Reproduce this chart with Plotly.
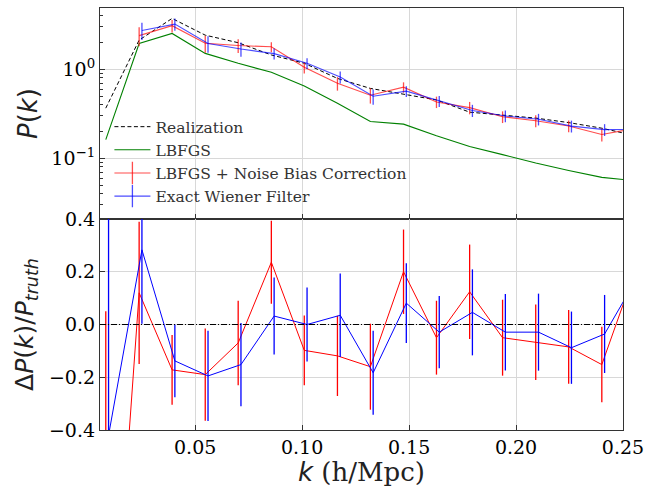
import plotly.graph_objects as go
from plotly.subplots import make_subplots

# ---- data ----
k = [0.0082, 0.0238, 0.0392, 0.0547, 0.0701, 0.0856, 0.1010, 0.1165, 0.1319,
     0.1474, 0.1628, 0.1783, 0.1937, 0.2092, 0.2246, 0.2401, 0.2555]
k_blue = [0.0095, 0.0251, 0.0405, 0.0560, 0.0714, 0.0869, 0.1023, 0.1178, 0.1332,
          0.1487, 0.1641, 0.1796, 0.1950, 0.2105, 0.2259, 0.2414, 0.2568]

p_real = [0.366, 2.13, 3.73, 2.42, 1.99, 1.45, 1.17, 0.79, 0.61, 0.525, 0.453,
          0.33, 0.308, 0.283, 0.252, 0.218, 0.18]
p_lbfgs = [0.162, 1.95, 2.53, 1.51, 1.17, 0.925, 0.65, 0.416, 0.259, 0.242,
           0.179, 0.136, 0.11, 0.0886, 0.073, 0.061, 0.056]
p_corr = [None, 2.39, 3.09, 1.96, 1.85, 1.79, 1.055, 0.696, 0.512, 0.63, 0.43,
          0.371, 0.293, 0.264, 0.231, 0.185, 0.216]
p_corr_err = [None, 0.575, 0.49, 0.42, 0.32, 0.23, 0.155, 0.12, 0.10, 0.084,
              0.063, 0.059, 0.044, 0.040, 0.035, 0.031, 0.027]
p_wf = [None, 2.73, 3.22, 1.95, 1.69, 1.50, 1.17, 0.818, 0.498, 0.568, 0.44,
        0.345, 0.299, 0.275, 0.23, 0.21, 0.212]
p_wf_err = [None, 0.60, 0.51, 0.41, 0.31, 0.21, 0.164, 0.125, 0.097, 0.079,
            0.062, 0.054, 0.045, 0.041, 0.035, 0.032, 0.027]

d_corr = [-1.65, 0.12, -0.172, -0.19, -0.07, 0.236, -0.098, -0.119, -0.16, 0.2,
          -0.05, 0.124, -0.05, -0.067, -0.085, -0.152, 0.2]
d_corr_err = [1.70, 0.27, 0.132, 0.175, 0.16, 0.157, 0.132, 0.152, 0.163, 0.16,
              0.14, 0.179, 0.144, 0.143, 0.14, 0.143, 0.15]
d_wf = [-0.42, 0.283, -0.138, -0.195, -0.152, 0.032, 0.0, 0.035, -0.183, 0.081,
        -0.029, 0.046, -0.029, -0.029, -0.088, -0.036, 0.18]
d_wf_err = [0.9, 0.28, 0.138, 0.171, 0.158, 0.146, 0.14, 0.158, 0.159, 0.151,
            0.137, 0.163, 0.145, 0.146, 0.137, 0.148, 0.15]

legend_names = ["Realization", "LBFGS", "LBFGS + Noise Bias Correction", "Exact Wiener Filter"]

RED_T = "rgba(255,0,0,0.7)"
BLUE_T = "rgba(0,0,255,0.7)"
SERIF = "DejaVu Serif, Liberation Serif, serif"
SANS = "DejaVu Sans, sans-serif"

fig = make_subplots(rows=2, cols=1, shared_xaxes=True, vertical_spacing=0)

# ---- top panel ----
fig.add_trace(go.Scatter(x=k, y=p_real, mode="lines", showlegend=False,
                         line=dict(color="black", width=1, dash="4px,2.5px")), row=1, col=1)
fig.add_trace(go.Scatter(x=k, y=p_lbfgs, mode="lines", showlegend=False,
                         line=dict(color="green", width=1.1)), row=1, col=1)
fig.add_trace(go.Scatter(x=k, y=p_corr, mode="lines", showlegend=False,
                         line=dict(color=RED_T, width=1.1),
                         error_y=dict(type="data", array=p_corr_err, color=RED_T,
                                      thickness=1.3, width=0)), row=1, col=1)
fig.add_trace(go.Scatter(x=k_blue, y=p_wf, mode="lines", showlegend=False,
                         line=dict(color=BLUE_T, width=1.1),
                         error_y=dict(type="data", array=p_wf_err, color=BLUE_T,
                                      thickness=1.3, width=0)), row=1, col=1)

# legend entries
leg_styles = [
    dict(mode="lines", line=dict(color="black", width=1, dash="4px,2.5px")),
    dict(mode="lines", line=dict(color="green", width=1.1)),
    dict(mode="lines+markers", line=dict(color=RED_T, width=1.1),
         marker=dict(symbol="line-ns", size=17, line=dict(color=RED_T, width=1.3))),
    dict(mode="lines+markers", line=dict(color=BLUE_T, width=1.1),
         marker=dict(symbol="line-ns", size=17, line=dict(color=BLUE_T, width=1.3))),
]
for i, (nm, st) in enumerate(zip(legend_names, leg_styles)):
    fig.add_trace(go.Scatter(x=[None], y=[None], name=nm, legendgroup=f"g{i}",
                             showlegend=True, **st), row=1, col=1)

# ---- bottom panel ----
fig.add_trace(go.Scatter(x=k, y=d_corr, mode="lines", showlegend=False,
                         line=dict(color="red", width=1),
                         error_y=dict(type="data", array=d_corr_err, color="red",
                                      thickness=1.3, width=0)), row=2, col=1)
fig.add_trace(go.Scatter(x=k_blue, y=d_wf, mode="lines", showlegend=False,
                         line=dict(color="blue", width=1),
                         error_y=dict(type="data", array=d_wf_err, color="blue",
                                      thickness=1.3, width=0)), row=2, col=1)
fig.add_hline(y=0, line=dict(color="black", width=1, dash="6px,2px,1px,2px"), row=2, col=1)

axis_common = dict(showline=True, mirror=True, linecolor="#333", linewidth=1.2,
                   ticks="inside", ticklen=5, tickwidth=1, tickcolor="#333",
                   showgrid=True, gridcolor="#d8d8d8", gridwidth=1, zeroline=False,
                   tickfont=dict(family=SERIF, size=19, color="black"))

fig.update_xaxes(**axis_common, range=[0.0055, 0.25], tickvals=[0.05, 0.10, 0.15, 0.20, 0.25])
fig.update_xaxes(showticklabels=False, row=1, col=1)
fig.update_xaxes(tickformat=".2f", row=2, col=1,
                 title=dict(text="<span style=\"font-family:DejaVu Sans\"><i>k</i></span> (h/Mpc)",
                            font=dict(family=SERIF, size=26, color="#222"), standoff=3))

fig.update_yaxes(**axis_common)
fig.update_yaxes(type="log", range=[-1.682, 0.689], tickvals=[0.1, 1],
                 ticktext=["10<sup>\u22121</sup>", "10<sup>0</sup>"],
                 minor=dict(ticks="inside", ticklen=3, tickcolor="#333", showgrid=False,
                            tickvals=[0.03, 0.04, 0.05, 0.06, 0.07, 0.08, 0.09,
                                      0.2, 0.3, 0.4, 0.5, 0.6, 0.7, 0.8, 0.9, 2, 3, 4]),
                 title=dict(text="<i>P</i>(<i>k</i>)", font=dict(family=SANS, size=26, color="#222"),
                            standoff=6),
                 row=1, col=1)
fig.update_yaxes(range=[-0.4, 0.4], tickvals=[-0.4, -0.2, 0.0, 0.2, 0.4], tickformat=".1f",
                 title=dict(text="\u0394<i>P</i>(<i>k</i>)/<i>P</i><sub><i>truth</i></sub>",
                            font=dict(family=SANS, size=25, color="#222"), standoff=8),
                 row=2, col=1)

fig.update_layout(
    width=646, height=487,
    margin=dict(l=100, r=23, t=8, b=57, autoexpand=False),
    paper_bgcolor="white", plot_bgcolor="white",
    legend=dict(x=0.018, y=0.514, xanchor="left", yanchor="bottom",
                bgcolor="rgba(0,0,0,0)", font=dict(family=SERIF, size=15.5, color="#333"),
                tracegroupgap=0, itemwidth=36),
)

fig.write_html("out.html")
